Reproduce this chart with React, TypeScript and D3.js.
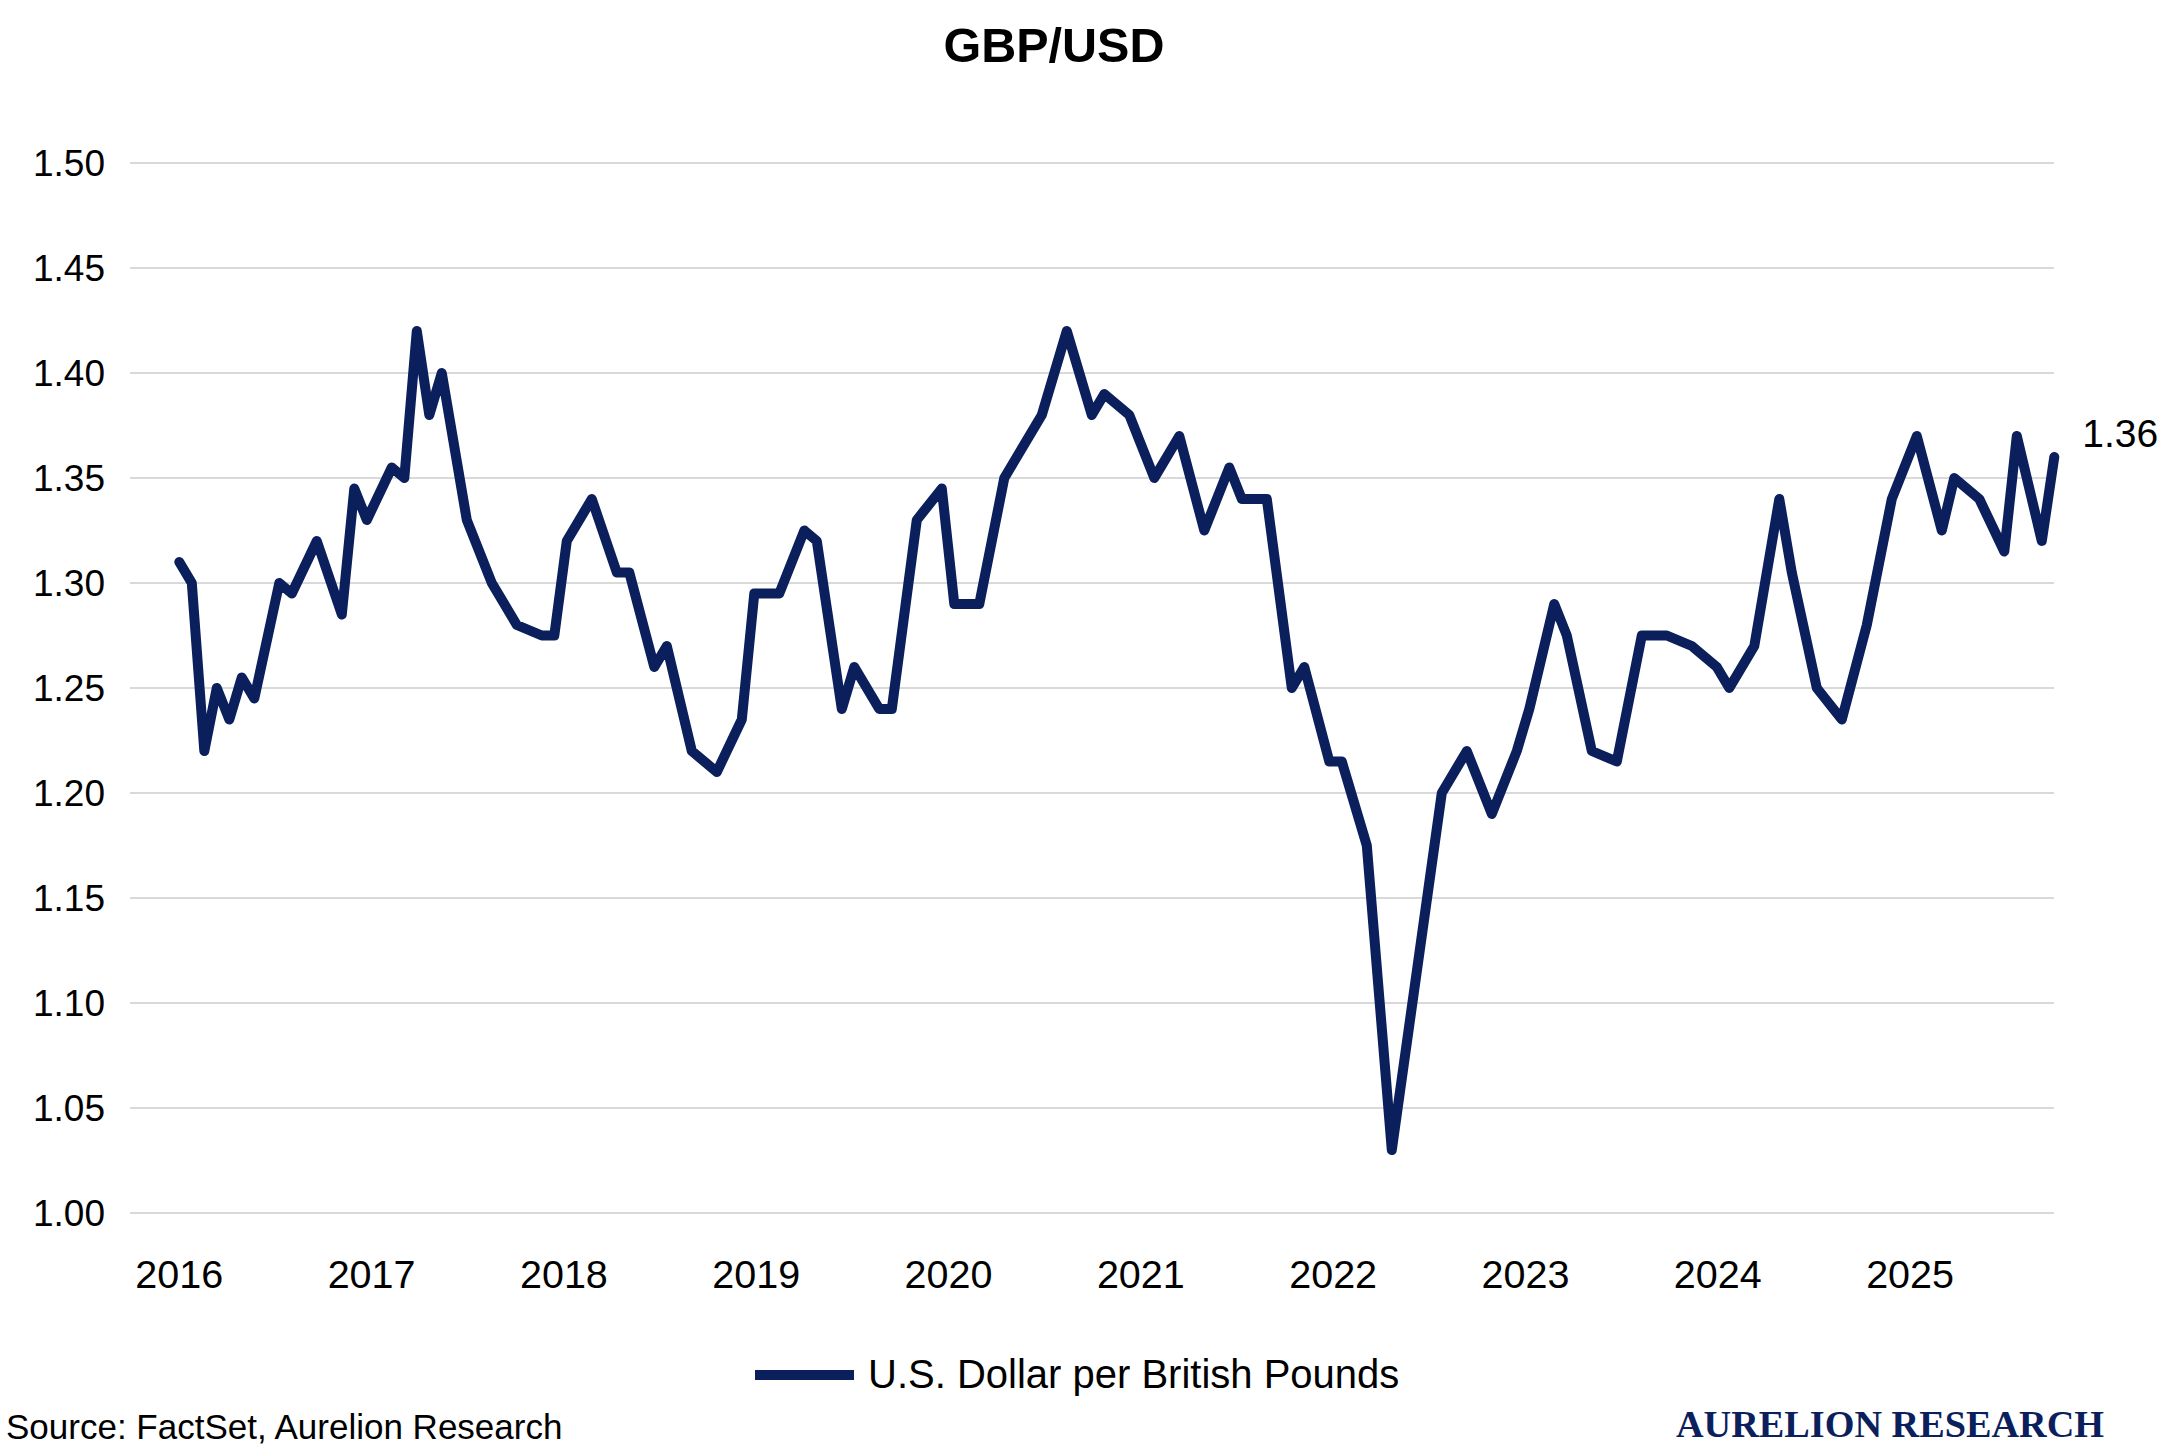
import React from 'react';
import * as d3 from 'd3';

// ---- text ----
const TITLE = 'GBP/USD';
const SERIES_NAME = 'U.S. Dollar per British Pounds';
const SOURCE = 'Source: FactSet, Aurelion Research';
const BRAND = 'AURELION RESEARCH';

// ---- data (observation number, value) ----
const obsIndex = [
  0, 1, 2, 3, 4, 5, 6, 8, 9, 11, 13, 14, 15, 17, 18, 19, 20, 21, 23, 25, 27, 29, 30, 31, 33, 35,
  36, 38, 39, 41, 43, 45, 46, 48, 50, 51, 53, 54, 56, 57, 59, 61, 62, 64, 66, 69, 71, 73,
  74, 76, 78, 80, 82, 84, 85, 87, 89, 90, 92, 93, 95, 97, 101, 103, 105, 107, 108, 110, 111,
  113, 115, 117, 119, 121, 123, 124, 126, 128, 129, 131, 133, 135, 137, 139, 141, 142, 144,
  146, 147, 149, 150,
];
const usdPerGbp = [
  1.31, 1.30, 1.22, 1.25, 1.235, 1.255, 1.245, 1.30, 1.295, 1.32, 1.285, 1.345, 1.33, 1.355, 1.35, 1.42, 1.38, 1.40, 1.33, 1.30, 1.28, 1.275, 1.275, 1.32, 1.34, 1.305,
  1.305, 1.26, 1.27, 1.22, 1.21, 1.235, 1.295, 1.295, 1.325, 1.32, 1.24, 1.26, 1.24, 1.24, 1.33, 1.345, 1.29, 1.29, 1.35, 1.38, 1.42, 1.38,
  1.39, 1.38, 1.35, 1.37, 1.325, 1.355, 1.34, 1.34, 1.25, 1.26, 1.215, 1.215, 1.175, 1.03, 1.20, 1.22, 1.19, 1.22, 1.24, 1.29, 1.275,
  1.22, 1.215, 1.275, 1.275, 1.27, 1.26, 1.25, 1.27, 1.34, 1.305, 1.25, 1.235, 1.28, 1.34, 1.37, 1.325, 1.35, 1.34,
  1.315, 1.37, 1.32, 1.36,
];
const obsDomain = [0, 150];
const yearDomain = [2016, 2025.75];
const yearLabels = [2016, 2017, 2018, 2019, 2020, 2021, 2022, 2023, 2024, 2025];
const yTicks = [1.0, 1.05, 1.1, 1.15, 1.2, 1.25, 1.3, 1.35, 1.4, 1.45, 1.5];
const yDomain = [1.0, 1.5];

const NAVY = '#0b1f5c';
const GRID = '#d9d9d9';
const SANS = '"Liberation Sans", Arial, Helvetica, sans-serif';
const SERIF = '"Liberation Serif", "Times New Roman", serif';

export default function App() {
  const W = 2165;
  const H = 1453;
  const gridLeft = 130;
  const gridRight = 2054;
  const xStart = 179.3;
  const xEnd = 2054.3;

  const x = d3.scaleLinear().domain(obsDomain).range([xStart, xEnd]);
  const xYear = d3.scaleLinear().domain(yearDomain).range([xStart, xEnd]);
  const y = d3.scaleLinear().domain(yDomain).range([1213, 163]);

  const pts = obsIndex.map((o, i) => ({ o, v: usdPerGbp[i] }));
  const line = d3
    .line<{ o: number; v: number }>()
    .x((d) => x(d.o))
    .y((d) => y(d.v));

  const last = pts[pts.length - 1];
  const fmt = d3.format('.2f');

  return (
    <svg
      width={W}
      height={H}
      viewBox={`0 0 ${W} ${H}`}
      style={{ position: 'absolute', left: 0, top: 0, background: '#fff' }}
    >
      <rect x={0} y={0} width={W} height={H} fill="#fff" />
      <text
        x={1054}
        y={62}
        textAnchor="middle"
        fontFamily={SANS}
        fontWeight="bold"
        fontSize={48.5}
        fill="#000"
      >
        {TITLE}
      </text>

      {yTicks.map((t) => (
        <g key={t}>
          <line x1={gridLeft} x2={gridRight} y1={y(t)} y2={y(t)} stroke={GRID} strokeWidth={2} />
          <text
            x={105}
            y={y(t) + 13}
            textAnchor="end"
            fontFamily={SANS}
            fontSize={37}
            fill="#000"
          >
            {fmt(t)}
          </text>
        </g>
      ))}

      {yearLabels.map((yr) => (
        <text
          key={yr}
          x={xYear(yr)}
          y={1288}
          textAnchor="middle"
          fontFamily={SANS}
          fontSize={39.5}
          fill="#000"
        >
          {yr}
        </text>
      ))}

      <path
        d={line(pts) || ''}
        fill="none"
        stroke={NAVY}
        strokeWidth={10}
        strokeLinejoin="round"
        strokeLinecap="round"
      />

      <text
        x={x(last.o) + 28}
        y={y(last.v) - 10}
        fontFamily={SANS}
        fontSize={39}
        fill="#000"
      >
        {fmt(last.v)}
      </text>

      <line x1={755} x2={854} y1={1375} y2={1375} stroke={NAVY} strokeWidth={10} />
      <text x={868} y={1388} fontFamily={SANS} fontSize={40} fill="#000">
        {SERIES_NAME}
      </text>

      <text x={6} y={1439} fontFamily={SANS} fontSize={35} fill="#000">
        {SOURCE}
      </text>

      <text
        x={1676}
        y={1437}
        fontFamily={SERIF}
        fontWeight="bold"
        fontSize={37}
        fill={NAVY}
        textLength={428}
        lengthAdjust="spacingAndGlyphs"
      >
        {BRAND}
      </text>
    </svg>
  );
}
